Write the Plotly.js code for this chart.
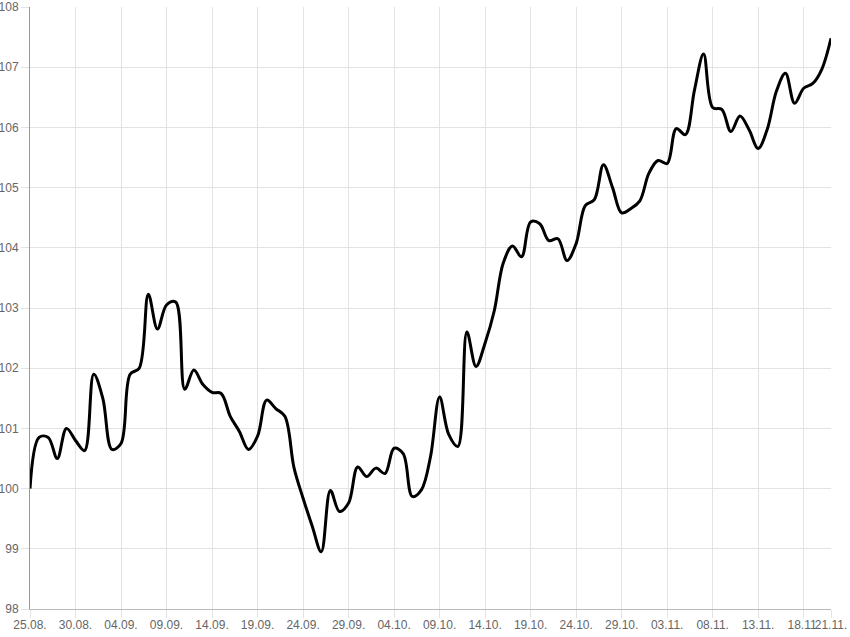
<!DOCTYPE html>
<html>
<head>
<meta charset="utf-8">
<script src="https://cdn.plot.ly/plotly-3.0.1.min.js"></script>
<style>
  html, body { margin: 0; padding: 0; background: #fff; }
  #chart { width: 850px; height: 637px; }
</style>
</head>
<body>
<div id="chart"></div>
<script>
// daily index values, 25.08. - 21.11.
var values = [
  100.0, 100.85, 100.85, 100.5, 101.0, 100.8, 100.63, 101.9, 101.5, 100.65,
  100.75, 101.9, 102.0, 103.23, 102.65, 103.05, 103.1, 101.65, 101.97, 101.73,
  101.6, 101.58, 101.2, 100.95, 100.65, 100.87, 101.47, 101.33, 101.2, 100.35,
  99.84, 99.38, 98.95, 99.97, 99.62, 99.76, 100.36, 100.2, 100.34, 100.25,
  100.67, 100.58, 99.87, 99.98, 100.53, 101.52, 100.9, 100.7, 102.6, 102.03,
  102.42, 102.95, 103.75, 104.03, 103.85, 104.43, 104.4, 104.12, 104.15, 103.79,
  104.07, 104.7, 104.8, 105.38, 105.0, 104.58, 104.65, 104.78, 105.24, 105.45,
  105.4, 105.98, 105.88, 106.62, 107.22, 106.33, 106.3, 105.93, 106.19, 105.96,
  105.65, 105.97, 106.6, 106.9, 106.4, 106.65, 106.73, 106.97, 107.48
];

// day labels dd.mm.
var days = [];
var d = new Date(2021, 7, 25);
for (var i = 0; i < values.length; i++) {
  var dd = ('0' + d.getDate()).slice(-2);
  var mm = ('0' + (d.getMonth() + 1)).slice(-2);
  days.push(dd + '.' + mm + '.');
  d.setDate(d.getDate() + 1);
}

var idx = days.map(function (s, i) { return i; });

// a tick every 5 days plus the last day
var tickIdx = [];
var tickText = [];
for (var t = 0; t < days.length; t += 5) {
  tickIdx.push(t);
  tickText.push(days[t]);
}
tickIdx.push(days.length - 1);
tickText.push(days[days.length - 1]);

var trace = {
  x: idx,
  y: values,
  text: days,
  type: 'scatter',
  mode: 'lines',
  line: { color: '#000', width: 3, shape: 'spline', smoothing: 1 },
  hoverinfo: 'text+y'
};

var gridCol = '#e3e3e3';
var layout = {
  width: 850,
  height: 637,
  margin: { l: 30, r: 19, t: 7, b: 28 },
  paper_bgcolor: '#fff',
  plot_bgcolor: '#fff',
  showlegend: false,
  font: { family: '"Liberation Sans", Arial, sans-serif', size: 12, color: '#666' },
  xaxis: {
    range: [0, days.length - 1],
    tickmode: 'array',
    tickvals: tickIdx,
    ticktext: tickText,
    tickangle: 0,
    ticklabelstandoff: -3,
    showgrid: true,
    gridcolor: gridCol,
    gridwidth: 1,
    zeroline: false,
    showline: true,
    linecolor: '#bbb',
    linewidth: 1,
    ticks: 'outside',
    ticklen: 8,
    tickcolor: gridCol,
    fixedrange: true
  },
  yaxis: {
    range: [98, 108],
    tickmode: 'linear',
    tick0: 98,
    dtick: 1,
    showgrid: true,
    gridcolor: gridCol,
    gridwidth: 1,
    zeroline: false,
    showline: true,
    linecolor: '#999',
    linewidth: 1,
    ticks: 'outside',
    ticklen: 8,
    tickcolor: gridCol,
    fixedrange: true
  }
};

Plotly.newPlot('chart', [trace], layout, { displayModeBar: false, staticPlot: true });
</script>
</body>
</html>
